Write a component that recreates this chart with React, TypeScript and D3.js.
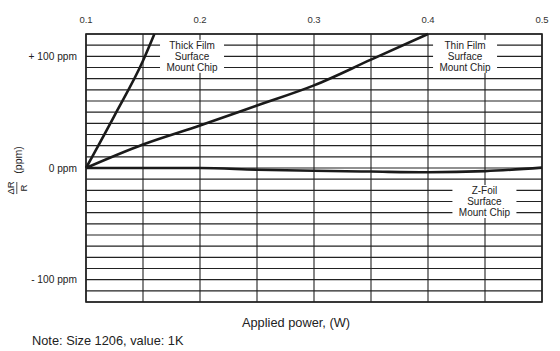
import React from "react";
import * as d3 from "d3";

const xTicks = [0.1, 0.2, 0.3, 0.4, 0.5];
const xGrid = [0.1, 0.15, 0.2, 0.25, 0.3, 0.35, 0.4, 0.45, 0.5];
const yTickValues = [100, 0, -100];
const yTickLabels = ["+ 100 ppm", "0 ppm", "- 100 ppm"];

const thickPower = [0.1, 0.125, 0.15, 0.16];
const thickPpm = [0, 47, 96, 120];
const thinPower = [0.1, 0.15, 0.2, 0.25, 0.3, 0.35, 0.4];
const thinPpm = [0, 21, 38, 56, 74, 97, 120];
const zfoilPower = [0.1, 0.2, 0.25, 0.3, 0.35, 0.4, 0.45, 0.5];
const zfoilPpm = [0, 0, -1.5, -2.5, -3.2, -3.8, -2.8, 0.3];

const labels = [
  { lines: ["Thick Film", "Surface", "Mount Chip"], x: 0.193, y: 100 },
  { lines: ["Thin Film", "Surface", "Mount Chip"], x: 0.4325, y: 100 },
  { lines: ["Z-Foil", "Surface", "Mount Chip"], x: 0.4495, y: -30 },
];

const W = 560;
const H = 351;
const left = 86;
const right = 542;
const top = 34;
const bottom = 302;

export default function App() {
  const x = d3.scaleLinear().domain([0.1, 0.5]).range([left, right]);
  const y = d3.scaleLinear().domain([-120, 120]).range([bottom, top]);
  const yGrid = d3.range(-120, 121, 10);
  const line = d3
    .line<[number, number]>()
    .x((d) => x(d[0]))
    .y((d) => y(d[1]))
    .curve(d3.curveMonotoneX);
  const series = [
    thickPower.map((p, i) => [p, thickPpm[i]] as [number, number]),
    thinPower.map((p, i) => [p, thinPpm[i]] as [number, number]),
    zfoilPower.map((p, i) => [p, zfoilPpm[i]] as [number, number]),
  ];
  const font = "Liberation Sans, Arial, Helvetica, sans-serif";
  return (
    <svg
      width={W}
      height={H}
      style={{ position: "absolute", left: 0, top: 0, background: "#fff" }}
      fontFamily={font}
    >
      <rect x={0} y={0} width={W} height={H} fill="#fff" />
      {yGrid.map((v) => (
        <line key={"h" + v} x1={left} x2={right} y1={y(v)} y2={y(v)} stroke="#222" strokeWidth={1.1} />
      ))}
      {xGrid.map((v) => (
        <line key={"v" + v} x1={x(v)} x2={x(v)} y1={top} y2={bottom} stroke="#222" strokeWidth={1.1} />
      ))}
      <rect x={left} y={top} width={right - left} height={bottom - top} fill="none" stroke="#222" strokeWidth={1.6} />
      {series.map((s, i) => (
        <path key={"s" + i} d={line(s) || ""} fill="none" stroke="#1a1a1a" strokeWidth={2.6} strokeLinejoin="round" />
      ))}
      {labels.map((l, i) => (
        <g key={"l" + i}>
          <rect x={x(l.x) - 32} y={y(l.y) - 16.5} width={64} height={33} fill="#fff" />
          {l.lines.map((t, j) => (
            <text
              key={j}
              x={x(l.x)}
              y={y(l.y) + (j - 1) * 11.2}
              textAnchor="middle"
              dominantBaseline="central"
              fontSize={10}
              fill="#222"
            >
              {t}
            </text>
          ))}
        </g>
      ))}
      {xTicks.map((v) => (
        <text key={"xt" + v} x={x(v)} y={23} textAnchor="middle" fontSize={9.5} fill="#333">
          {v.toFixed(1)}
        </text>
      ))}
      {yTickValues.map((v, i) => (
        <text key={"yt" + v} x={77} y={y(v)} textAnchor="end" dominantBaseline="central" fontSize={10.2} fill="#222">
          {yTickLabels[i]}
        </text>
      ))}
      <g transform="translate(0,168) rotate(-90)">
        <text x={-20} y={14} textAnchor="middle" fontSize={9.5} fill="#222">ΔR</text>
        <line x1={-26} x2={-14} y1={16.8} y2={16.8} stroke="#222" strokeWidth={0.8} />
        <text x={-20} y={26.5} textAnchor="middle" fontSize={9.5} fill="#222">R</text>
        <text x={8} y={21.5} textAnchor="middle" fontSize={10.5} fill="#222">(ppm)</text>
      </g>
      <text x={296} y={327} textAnchor="middle" fontSize={12.8} fill="#222">
        Applied power, (W)
      </text>
      <text x={32} y={345} fontSize={12.8} fill="#222">
        Note: Size 1206, value: 1K
      </text>
    </svg>
  );
}
